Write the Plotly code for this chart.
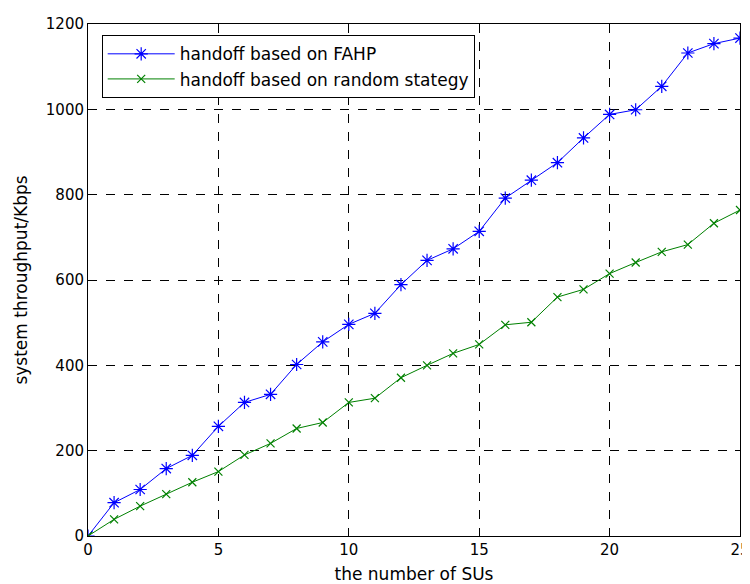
import plotly.graph_objects as go

x_sus = list(range(0, 26))
fahp = [0, 78, 109, 158, 189, 257, 313, 332, 402, 455, 496, 522, 589, 646, 673, 714,
        792, 834, 875, 933, 988, 999, 1054, 1132, 1154, 1167]
random_strategy = [0, 39, 70, 98, 126, 151, 190, 217, 252, 266, 313, 323, 371, 400, 428, 449,
                   495, 501, 560, 578, 615, 641, 666, 683, 733, 764]
x_ticks = [0, 5, 10, 15, 20, 25]
y_ticks = [0, 200, 400, 600, 800, 1000, 1200]

FONT = "DejaVu Sans, Liberation Sans, Arial"

fig = go.Figure()
fig.add_trace(go.Scatter(
    x=x_sus, y=fahp, mode="lines+markers", name="handoff based on FAHP",
    line=dict(color="#0000ff", width=1),
    marker=dict(symbol="asterisk-open", size=11, line=dict(color="#0000ff", width=1.2)),
))
fig.add_trace(go.Scatter(
    x=x_sus, y=random_strategy, mode="lines+markers", name="handoff based on random stategy",
    line=dict(color="#008000", width=1),
    marker=dict(symbol="x-thin-open", size=8, line=dict(color="#008000", width=1.2)),
))

axis_common = dict(
    showline=True, linecolor="black", linewidth=1, mirror="ticks",
    ticks="inside", ticklen=5, tickcolor="black",
    showgrid=True, gridcolor="black", griddash="dash", gridwidth=1,
    zeroline=False, automargin=False,
    tickfont=dict(family=FONT, size=15, color="black"),
)
fig.update_xaxes(range=[0, 25], tickvals=x_ticks,
                 title=dict(text="the number of SUs", font=dict(family=FONT, size=17, color="black"), standoff=10),
                 **axis_common)
fig.update_yaxes(range=[0, 1200], tickvals=y_ticks,
                 title=dict(text="system throughput/Kbps", font=dict(family=FONT, size=17, color="black"), standoff=13),
                 **axis_common)

# page body has an 8px margin; size the figure so the plot area lands at 88..740 x 24..536
fig.update_layout(
    width=742, height=576,
    margin=dict(l=80, r=10, t=16, b=48),
    paper_bgcolor="white", plot_bgcolor="white",
    font=dict(family=FONT, size=15, color="black"),
    legend=dict(x=0.021, y=0.978, xanchor="left", yanchor="top",
                bgcolor="white", bordercolor="black", borderwidth=1,
                font=dict(size=17), itemwidth=67, tracegroupgap=0),
)
fig.write_html("out.html")
